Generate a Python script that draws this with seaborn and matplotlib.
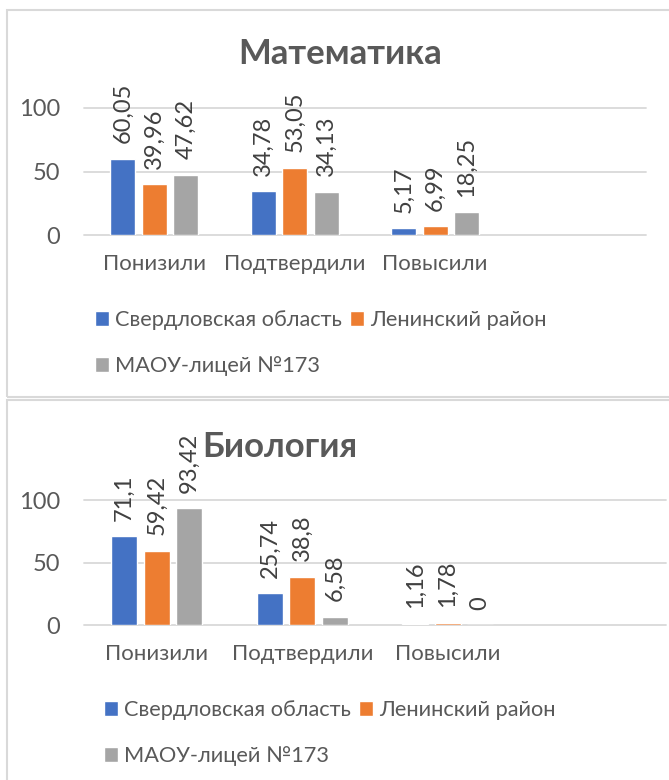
import seaborn as sns
import matplotlib.pyplot as plt
import pandas as pd
from matplotlib.patches import Rectangle

# chart data
categories = ["Понизили", "Подтвердили", "Повысили"]
series = ["Свердловская область", "Ленинский район", "МАОУ-лицей №173"]
math_values = [
    [60.05, 34.78, 5.17],
    [39.96, 53.05, 6.99],
    [47.62, 34.13, 18.25],
]
bio_values = [
    [71.1, 25.74, 1.16],
    [59.42, 38.8, 1.78],
    [93.42, 6.58, 0],
]
colors = ["#4472C4", "#ED7D31", "#A5A5A5"]
text_color = "#595959"
grid_color = "#D9D9D9"

sns.set_theme(style="white")
plt.rcParams["font.family"] = ["Lato", "DejaVu Sans"]

W, H = 669, 780
fig = plt.figure(figsize=(W / 100, H / 100), dpi=100)


def to_frame(values):
    rows = []
    for name, vals in zip(series, values):
        for cat, v in zip(categories, vals):
            rows.append({"cat": cat, "series": name, "value": v})
    return pd.DataFrame(rows)


def fmt(v):
    return f"{v:g}".replace(".", ",")


def draw_chart(box, ax_px, title, title_xy, values, legend_xy):
    # box border (px: left, top, bottom)
    left, top, bottom = box
    fig.patches.append(Rectangle((left / W, 1 - bottom / H), 1.2, (bottom - top) / H,
                                 transform=fig.transFigure, fill=False,
                                 edgecolor=grid_color, lw=1.5))
    x0, x1, y0, y100 = ax_px
    ax = fig.add_axes([x0 / W, 1 - y0 / H, (x1 - x0) / W, (y0 - y100) / H])
    df = to_frame(values)
    sns.barplot(data=df, x="cat", y="value", hue="series", order=categories,
                hue_order=series, palette=colors, width=0.67, gap=0.2,
                saturation=1, legend=False, ax=ax)
    ax.set_xlim(-0.5, 3.5)
    ax.set_ylim(0, 100)
    ax.set_yticks([0, 50, 100])
    ax.set_xlabel("")
    ax.set_ylabel("")
    for s in ax.spines.values():
        s.set_visible(False)
    ax.grid(axis="y", color=grid_color, lw=1.3)
    for line in ax.get_ygridlines():
        line.set_clip_on(False)
    ax.tick_params(axis="y", length=0, pad=17, labelsize=17, labelcolor=text_color)
    ax.tick_params(axis="x", length=0, pad=14, labelsize=16, labelcolor=text_color)
    for cont, vals in zip(ax.containers, values):
        ax.bar_label(cont, labels=[fmt(v) for v in vals], rotation=90,
                     padding=11, fontsize=17, color="#404040")
    fig.text(title_xy[0] / W, 1 - title_xy[1] / H, title, ha="center", va="center",
             fontsize=25, fontweight="bold", color=text_color)
    handles = list(ax.containers)
    order = [0, 2, 1]
    ax.legend([handles[i] for i in order], [series[i] for i in order], ncol=2,
              loc="upper left", bbox_to_anchor=(legend_xy[0] / W, 1 - legend_xy[1] / H),
              bbox_transform=fig.transFigure, frameon=False, borderpad=0,
              borderaxespad=0, fontsize=15.7, labelcolor=text_color,
              handlelength=0.64, handleheight=0.64, handletextpad=0.28,
              columnspacing=0.37, labelspacing=1.2)


draw_chart((7, 10, 397), (84, 646, 235, 108), "Математика", (340, 54),
           math_values, (95, 310))
draw_chart((7, 400, 790), (84, 666, 625, 500), "Биология", (280, 447),
           bio_values, (104, 700))

fig.savefig("out.png", dpi=100)
